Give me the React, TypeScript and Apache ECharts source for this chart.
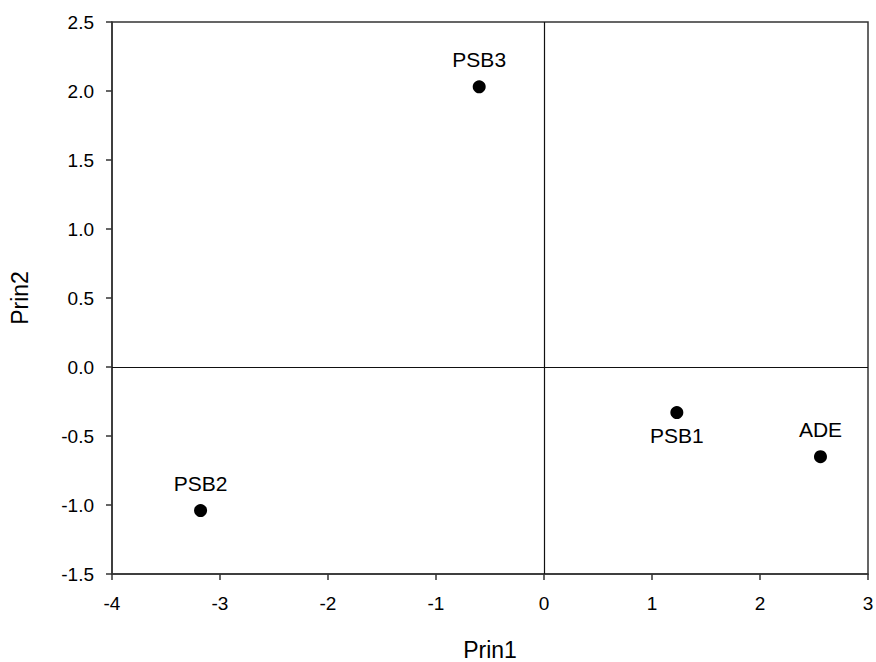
import React, { useEffect, useRef } from "react";
import * as echarts from "echarts";

const names = ["PSB3", "PSB1", "ADE", "PSB2"];
const prin1 = [-0.6, 1.23, 2.56, -3.18];
const prin2 = [2.03, -0.33, -0.65, -1.04];
const labelPos = ["top", "bottom", "top", "top"];

const xTicks = [-4, -3, -2, -1, 0, 1, 2, 3];
const yTicks = [-1.5, -1.0, -0.5, 0.0, 0.5, 1.0, 1.5, 2.0, 2.5];

export default function App() {
  const ref = useRef<HTMLDivElement>(null);
  useEffect(() => {
    document.body.style.margin = "0";
    if (!ref.current) return;
    const chart = echarts.init(ref.current, null, { renderer: "svg" });
    const font = "Arial, 'Liberation Sans', sans-serif";
    const axisLine = { show: true, onZero: false, lineStyle: { color: "#333", width: 1.5 } };
    const tick = { show: true, inside: false, length: 6, lineStyle: { color: "#333", width: 1.5 } };
    chart.setOption({
      animation: false,
      backgroundColor: "#fff",
      grid: {
        left: 112,
        top: 22,
        right: 8,
        bottom: 88,
        outerBoundsMode: "none",
        containLabel: false,
        show: true,
        borderColor: "#333",
        borderWidth: 1.5,
        backgroundColor: "transparent",
      },
      xAxis: {
        type: "value",
        min: xTicks[0],
        max: xTicks[xTicks.length - 1],
        interval: 1,
        name: "Prin1",
        nameLocation: "middle",
        nameGap: 64,
        nameTextStyle: { fontFamily: font, fontSize: 23, color: "#000" },
        axisLine,
        axisTick: tick,
        axisLabel: { margin: 20, fontFamily: font, fontSize: 19, color: "#000" },
        splitLine: { show: false },
      },
      yAxis: {
        type: "value",
        min: yTicks[0],
        max: yTicks[yTicks.length - 1],
        interval: 0.5,
        name: "Prin2",
        nameLocation: "middle",
        nameGap: 81,
        nameTextStyle: { fontFamily: font, fontSize: 23, color: "#000" },
        axisLine,
        axisTick: tick,
        axisLabel: {
          margin: 18,
          fontFamily: font,
          fontSize: 19,
          color: "#000",
          formatter: (v: number) => v.toFixed(1),
        },
        splitLine: { show: false },
      },
      series: [
        {
          type: "scatter",
          symbol: "circle",
          symbolSize: 13,
          itemStyle: { color: "#000", opacity: 1 },
          data: names.map((n, i) => ({
            value: [prin1[i], prin2[i]],
            name: n,
            label: { position: labelPos[i], distance: labelPos[i] === "top" ? 10 : 6 },
          })),
          label: {
            show: true,
            formatter: (p: any) => p.name,
            fontFamily: font,
            fontSize: 21,
            color: "#000",
          },
          markLine: {
            silent: true,
            symbol: "none",
            label: { show: false },
            lineStyle: { color: "#111", width: 1.2, type: "solid" },
            data: [{ xAxis: 0 }, { yAxis: 0 }],
          },
        },
      ],
    });
    return () => chart.dispose();
  }, []);
  return <div ref={ref} style={{ width: 876, height: 662 }} />;
}
